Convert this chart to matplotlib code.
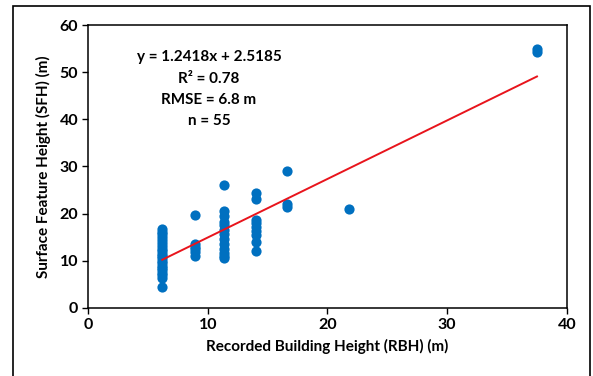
import matplotlib.pyplot as plt
from matplotlib.patches import Rectangle

# recorded building height (x) and surface feature height (y)
rbh = ([6.2] * 21 + [8.9] * 6 + [11.4] * 13 + [14.0] * 9
       + [16.6] * 3 + [21.8] + [37.5] * 2)
sfh = [16.8, 16.2, 15.6, 15.0, 14.4, 13.8, 13.2, 12.6, 12.0, 11.5, 11.0,
       10.5, 10.0, 9.5, 9.0, 8.5, 8.0, 7.5, 7.0, 6.4, 4.4,
       19.7, 13.6, 13.0, 12.4, 11.8, 11.1,
       26.1, 20.5, 19.5, 18.2, 17.5, 16.6, 15.6, 14.6, 13.6, 12.6, 11.6, 11.0, 10.5,
       24.3, 23.2, 18.6, 18.0, 17.1, 16.4, 15.5, 14.0, 12.0,
       29.0, 22.0, 21.5,
       20.9,
       55.0, 54.3]
slope, intercept = 1.2418, 2.5185
stats_text = "y = 1.2418x + 2.5185\nR² = 0.78\nRMSE = 6.8 m\nn = 55"

plt.rcParams['font.family'] = ['Lato', 'DejaVu Sans']
fig = plt.figure(figsize=(5.93, 3.76), dpi=100)
ax = fig.add_axes([0.1484, 0.181, 0.8076, 0.7525])

ax.scatter(rbh, sfh, s=54, color='#0070C0', zorder=3, linewidths=0)
x_fit = [min(rbh), max(rbh)]
ax.plot(x_fit, [slope * v + intercept for v in x_fit], color='#E8141C', lw=1.4, zorder=4)

ax.set_xlim(0, 40)
ax.set_ylim(0, 60)
ax.set_xticks([0, 10, 20, 30, 40])
ax.set_yticks([0, 10, 20, 30, 40, 50, 60])
ax.tick_params(direction='out', length=4, width=1, labelsize=11.5, pad=3)
for lbl in ax.get_xticklabels() + ax.get_yticklabels():
    lbl.set_fontweight('bold')
for sp in ax.spines.values():
    sp.set_linewidth(1.1)

ax.set_xlabel('Recorded Building Height (RBH) (m)', fontsize=11, fontweight='bold', labelpad=5)
ax.set_ylabel('Surface Feature Height (SFH) (m)', fontsize=11, fontweight='bold', labelpad=6)

ax.text(10.1, 54.6, stats_text, ha='center', va='top', fontsize=11,
        fontweight='bold', linespacing=1.65)

fig.patches.append(Rectangle((13 / 593, -0.05), 577 / 593, 1.034, transform=fig.transFigure,
                             fill=False, edgecolor='black', lw=1.2))

plt.savefig('out.png', dpi=100)
